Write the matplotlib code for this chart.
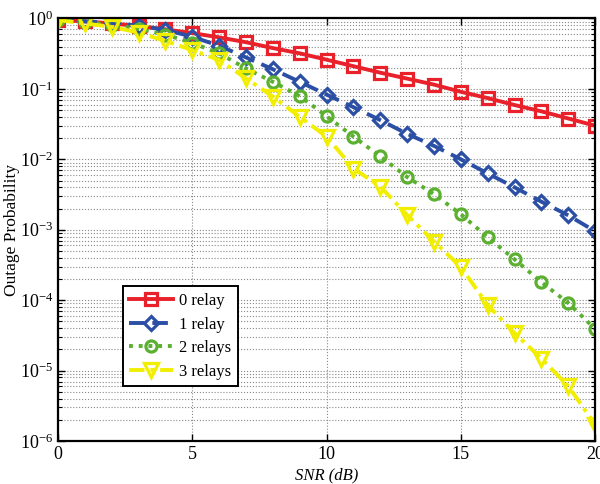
import numpy as np
import matplotlib
matplotlib.use("Agg")
import matplotlib.pyplot as plt
from matplotlib.ticker import LogLocator, NullFormatter, FixedLocator

plt.rcParams['font.family'] = ['Liberation Serif', 'DejaVu Serif']
plt.rcParams['mathtext.fontset'] = 'custom'
plt.rcParams['mathtext.rm'] = 'Liberation Serif'
plt.rcParams['mathtext.it'] = 'Liberation Serif:italic'

# --[Data]---------------------------------------------------------------------
snr_db = list(range(0, 21))

relay0 = [0.95, 0.91, 0.85, 0.78, 0.70, 0.62, 0.54, 0.46, 0.38, 0.32, 0.26,
          0.21, 0.17, 0.14, 0.115, 0.091, 0.074, 0.059, 0.048, 0.038, 0.030]
relay1 = [0.95, 0.91, 0.86, 0.79, 0.69, 0.55, 0.41, 0.28, 0.19, 0.126, 0.083,
          0.055, 0.036, 0.023, 0.0155, 0.010, 0.0063, 0.0040, 0.0025, 0.0016, 0.00095]
relay2 = [0.95, 0.89, 0.81, 0.71, 0.59, 0.45, 0.32, 0.195, 0.126, 0.079, 0.041,
          0.021, 0.011, 0.0056, 0.0032, 0.00166, 0.00078, 0.00038, 0.00018, 9.1e-5, 3.9e-5]
relay3 = [0.95, 0.85, 0.76, 0.63, 0.48, 0.355, 0.257, 0.141, 0.078, 0.040, 0.021,
          0.0074, 0.0041, 0.00162, 0.00068, 0.000295, 8.5e-5, 3.4e-5, 1.48e-5, 6.0e-6, 1.7e-6]

labels = ['0 relay', '1 relay', '2 relays', '3 relays']

# --[Plot]-----------------------------------------------------------------------
fig = plt.figure(figsize=(6, 4.84), dpi=100)
ax = fig.add_axes([0.0967, 0.0888, 0.8953, 0.8730])

ax.semilogy(snr_db, relay0, color='#e8212b', ls='-', lw=2.8, marker='s', ms=8,
            mfc='none', mew=2.3, label=labels[0])
ax.semilogy(snr_db, relay1, color='#2c4fa6', ls=(0, (4, 2)), lw=2.8, marker='D', ms=7.5,
            mfc='none', mew=2.3, label=labels[1])
ax.semilogy(snr_db, relay2, color='#5bb030', ls=(0, (1, 1.5)), lw=2.8, marker='o', ms=8,
            mfc='none', mew=2.3, label=labels[2])
ax.semilogy(snr_db, relay3, color='#f2ee00', ls=(0, (4, 1.5, 1, 1.5)), lw=2.8, marker='v', ms=10,
            mfc='none', mew=2.3, label=labels[3])

ax.set_xlim(0, 20)
ax.set_ylim(1e-6, 1)
ax.xaxis.set_major_locator(FixedLocator([0, 5, 10, 15, 20]))
ax.yaxis.set_major_locator(LogLocator(base=10, numticks=10))
ax.yaxis.set_minor_locator(LogLocator(base=10, subs=np.arange(2, 10), numticks=20))
ax.yaxis.set_minor_formatter(NullFormatter())

ax.grid(True, which='major', axis='both', ls=':', color='#888888', lw=0.8)
ax.grid(True, which='minor', axis='y', ls=':', color='#888888', lw=0.8)
ax.tick_params(direction='in', which='both', top=True, right=True, labelsize=13)
ax.tick_params(which='major', length=5, width=1)
ax.tick_params(which='minor', length=3, width=0.8)
for s in ax.spines.values():
    s.set_linewidth(1.6)

ax.set_xlabel('SNR (dB)', fontsize=12, style='italic', labelpad=3)
ax.set_ylabel('Outage Probability', fontsize=12.5)
ax.yaxis.set_label_coords(-0.07, 0.5)

leg = ax.legend(loc='lower left', bbox_to_anchor=(0.105, 0.11), fontsize=12,
                fancybox=False, framealpha=1, edgecolor='black', handlelength=2.6,
                borderpad=0.4, labelspacing=0.45, handletextpad=0.4)
leg.get_frame().set_linewidth(1.4)

fig.savefig('out.png', dpi=100)
